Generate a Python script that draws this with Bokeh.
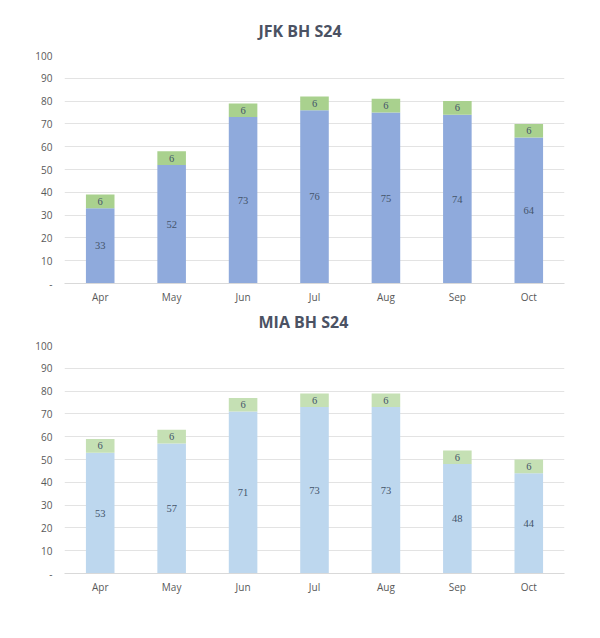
from bokeh.plotting import figure
from bokeh.layouts import column
from bokeh.models import (ColumnDataSource, FixedTicker, LabelSet, Title,
                          Range1d, FactorRange)
from bokeh.embed import file_html
from bokeh.resources import INLINE

months = ["Apr", "May", "Jun", "Jul", "Aug", "Sep", "Oct"]
jfk_base = [33, 52, 73, 76, 75, 74, 64]
jfk_extra = [6, 6, 6, 6, 6, 6, 6]
mia_base = [53, 57, 71, 73, 73, 48, 44]
mia_extra = [6, 6, 6, 6, 6, 6, 6]
y_ticks = [0, 10, 20, 30, 40, 50, 60, 70, 80, 90, 100]
jfk_title = "JFK BH S24"
mia_title = "MIA BH S24"

FONT = "Open Sans"
TXT = "#595959"
LBL = "#44546a"
TITLE_C = "#4b5263"


def style_title(t, offset, standoff, valign):
    t.text_font = FONT
    t.text_font_style = "bold"
    t.text_font_size = "16px"
    t.text_color = TITLE_C
    t.align = "left"
    t.offset = offset
    t.standoff = standoff
    t.vertical_align = valign


def make_chart(base, extra, c_base, c_extra, mb_top, mb_bottom,
               mb_left, mb_right):
    src = ColumnDataSource(dict(
        month=months,
        base=base,
        extra=extra,
        base_mid=[b / 2 for b in base],
        extra_mid=[b + e / 2 for b, e in zip(base, extra)],
        base_txt=[str(b) for b in base],
        extra_txt=[str(e) for e in extra],
    ))
    p = figure(x_range=FactorRange(*months), y_range=Range1d(0, 100),
               frame_width=500, frame_height=228, output_backend="svg",
               toolbar_location=None, tools="",
               min_border_top=mb_top, min_border_bottom=mb_bottom,
               min_border_left=mb_left, min_border_right=mb_right)

    p.vbar_stack(["base", "extra"], x="month", width=0.4,
                 color=[c_base, c_extra], line_color=None, source=src)

    for ycol, tcol in (("base_mid", "base_txt"), ("extra_mid", "extra_txt")):
        p.add_layout(LabelSet(x="month", y=ycol, text=tcol, source=src,
                              text_align="center", text_baseline="middle",
                              text_font=FONT, text_font_size="10.5px",
                              text_color=LBL))

    p.outline_line_color = None
    p.xgrid.grid_line_color = None
    p.ygrid.grid_line_color = "#e3e3e3"
    p.ygrid.ticker = FixedTicker(ticks=y_ticks)

    p.yaxis.ticker = FixedTicker(ticks=y_ticks)
    p.yaxis.major_label_overrides = {0: "-"}
    p.yaxis.axis_line_color = None
    p.yaxis.major_tick_line_color = None
    p.yaxis.minor_tick_line_color = None
    p.yaxis.major_tick_out = 0
    p.yaxis.major_label_standoff = 12
    p.yaxis.major_label_text_font = FONT
    p.yaxis.major_label_text_font_size = "10px"
    p.yaxis.major_label_text_color = TXT

    p.xaxis.axis_line_color = "#d9d9d9"
    p.xaxis.major_tick_line_color = None
    p.xaxis.minor_tick_line_color = None
    p.xaxis.major_tick_out = 0
    p.xaxis.major_label_standoff = 6
    p.xaxis.major_label_text_font = FONT
    p.xaxis.major_label_text_font_size = "10px"
    p.xaxis.major_label_text_color = TXT
    return p


p1 = make_chart(jfk_base, jfk_extra, "#8faadc", "#a9d18e", 55, 53, 62, 22)
p1.title.text = jfk_title
style_title(p1.title, 194, 28, "bottom")

# the MIA chart's heading sits in the gap just under the JFK chart's axis
mia_heading = Title(text=mia_title)
style_title(mia_heading, 194, 6, "middle")
p1.add_layout(mia_heading, "below")

p2 = make_chart(mia_base, mia_extra, "#bdd7ee", "#c5e0b4", 9, 40, 64, 20)

layout = column(p1, p2, spacing=0)
open("out.html", "w").write(file_html(layout, INLINE))
